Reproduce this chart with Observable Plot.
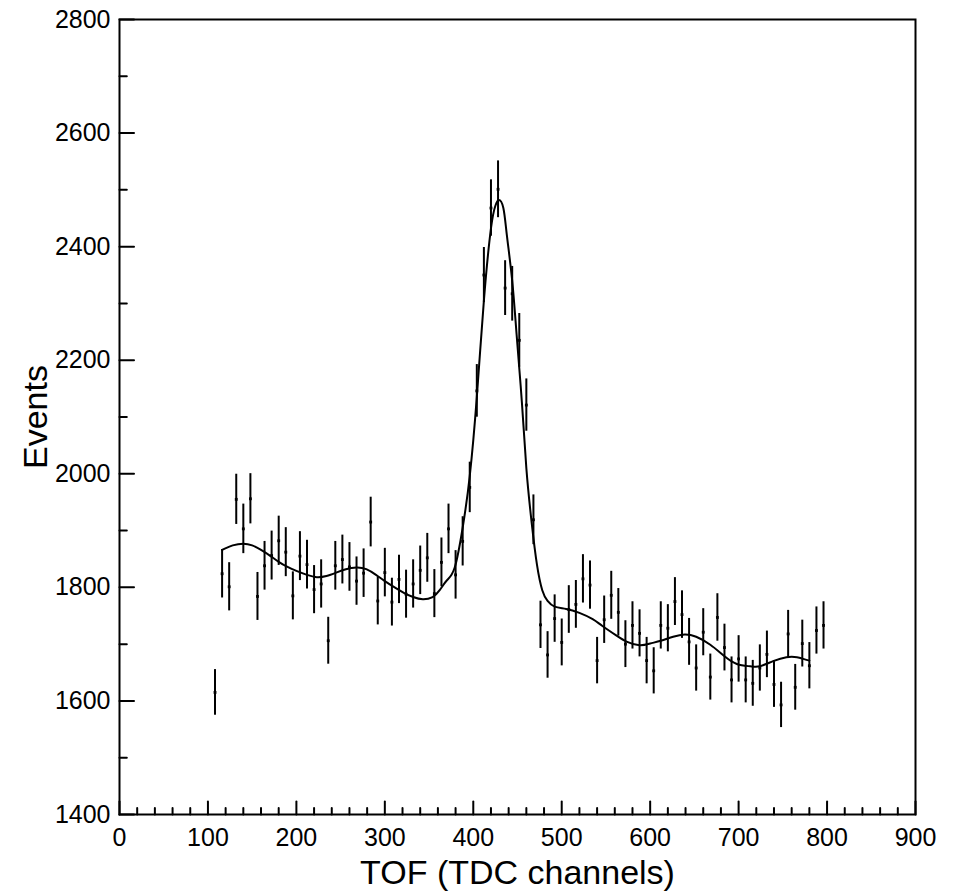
<!DOCTYPE html>
<html><head><meta charset="utf-8">
<script src="https://cdn.jsdelivr.net/npm/d3@7"></script>
<script src="https://cdn.jsdelivr.net/npm/@observablehq/plot@0.6"></script>
<style>body{margin:0;background:#fff}</style>
</head><body><div id="chart"></div>
<script>
// Histogram bin centres (TDC channels) and counts
const channels = [108,116,124,132,140,148,156,164,172,180,188,196,204,212,220,228,236,244,252,260,268,276,284,292,300,308,316,324,332,340,348,356,364,372,380,388,396,404,412,420,428,436,444,452,460,468,476,484,492,500,508,516,524,532,540,548,556,564,572,580,588,596,604,612,620,628,636,644,652,660,668,676,684,692,700,708,716,724,732,740,748,756,764,772,780,788,796];
const events = [1615,1824,1801,1955,1903,1956,1784,1838,1856,1882,1862,1785,1855,1840,1796,1806,1706,1838,1849,1836,1811,1825,1915,1776,1826,1774,1814,1788,1806,1830,1852,1789,1844,1903,1822,1881,1976,2146,2350,2468,2501,2327,2317,2235,2121,1919,1734,1681,1745,1703,1761,1770,1815,1804,1671,1743,1786,1756,1700,1733,1719,1671,1653,1733,1728,1775,1752,1704,1658,1721,1642,1747,1694,1637,1674,1637,1631,1658,1682,1629,1593,1718,1624,1701,1662,1724,1733];

// Fitted curve
const fitChannels = [116,128,140,150,160,170,180,190,200,212,223,234,245,256,268,279,290,300,312,322,332,343,354,362,370,379,388,396,404,412,420,425,429,434,438,444,449,455,460,466,472,478,484,492,505,520,535,546,562,574,588,600,612,626,639,652,668,683,698,713,724,739,754,766,773,780];
const fitEvents = [1866,1874,1877,1874,1866,1856,1845,1836,1829,1822,1818,1820,1826,1832,1835,1832,1822,1811,1799,1790,1783,1779,1783,1795,1812,1835,1905,1996,2135,2305,2432,2472,2482,2468,2420,2340,2245,2125,2010,1914,1840,1795,1776,1766,1762,1755,1744,1732,1715,1704,1698,1701,1706,1713,1717,1713,1699,1680,1665,1661,1661,1670,1677,1677,1674,1671];

const xMajorTicks = [0,100,200,300,400,500,600,700,800,900];
const xMinorTicks = [20,40,60,80,120,140,160,180,220,240,260,280,320,340,360,380,420,440,460,480,520,540,560,580,620,640,660,680,720,740,760,780,820,840,860,880];
const yMajorTicks = [1400,1600,1800,2000,2200,2400,2600,2800];
const yMinorTicks = [1500,1700,1900,2100,2300,2500,2700];
const xTitle = "TOF (TDC channels)";
const yTitle = "Events";

const data = channels.map((c, i) => ({ch: c, n: events[i], err: Math.sqrt(events[i])}));
const fit = fitChannels.map((c, i) => ({ch: c, n: fitEvents[i]}));

const tickShape = {draw(ctx, l) { ctx.moveTo(0, 0); ctx.lineTo(0, -l); }};

const chart = Plot.plot({
  width: 958, height: 895,
  marginLeft: 119, marginRight: 43, marginTop: 19, marginBottom: 81,
  style: {fontFamily: "'Liberation Sans', Arial, Helvetica, sans-serif", background: "white", color: "black"},
  x: {domain: [0, 900]},
  y: {domain: [1400, 2800]},
  marks: [
    Plot.axisX(xMajorTicks, {tickSize: 0, tickPadding: 14, fontSize: 25, label: null, tickFormat: d => String(d)}),
    Plot.axisY(yMajorTicks, {tickSize: 0, tickPadding: 9, fontSize: 25, label: null, tickFormat: d => String(d)}),
    Plot.vector(xMajorTicks, {x: d => d, frameAnchor: "bottom", length: 13, rotate: 0, anchor: "start", shape: tickShape, strokeWidth: 2, stroke: "black"}),
    Plot.vector(xMinorTicks, {x: d => d, frameAnchor: "bottom", length: 6.5, rotate: 0, anchor: "start", shape: tickShape, strokeWidth: 2, stroke: "black"}),
    Plot.vector(yMajorTicks, {y: d => d, frameAnchor: "left", length: 14.5, rotate: 90, anchor: "start", shape: tickShape, strokeWidth: 2, stroke: "black"}),
    Plot.vector(yMinorTicks, {y: d => d, frameAnchor: "left", length: 7.3, rotate: 90, anchor: "start", shape: tickShape, strokeWidth: 2, stroke: "black"}),
    Plot.frame({stroke: "black", strokeWidth: 2}),
    Plot.ruleX(data, {x: "ch", y1: d => d.n - d.err, y2: d => d.n + d.err, strokeWidth: 2, stroke: "black"}),
    Plot.dot(data, {x: "ch", y: "n", symbol: "square", r: 1.6, fill: "black"}),
    Plot.line(fit, {x: "ch", y: "n", curve: "natural", strokeWidth: 2, stroke: "black"}),
    Plot.text([xTitle], {frameAnchor: "bottom", dy: 59, fontSize: 34, text: d => d, fill: "black", textAnchor: "middle", lineAnchor: "middle"}),
    Plot.text([yTitle], {frameAnchor: "left", dx: -83, rotate: -90, fontSize: 34, text: d => d, fill: "black", textAnchor: "middle", lineAnchor: "middle"})
  ]
});
document.getElementById("chart").append(chart);
</script>
</body></html>
